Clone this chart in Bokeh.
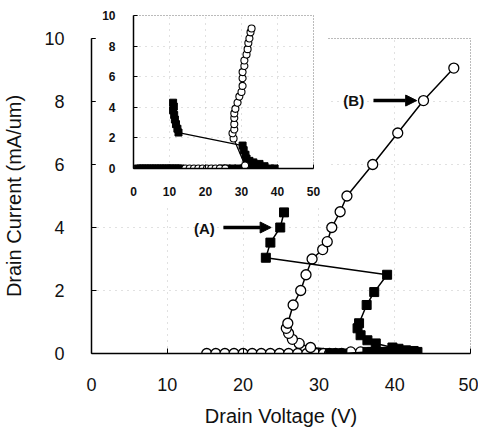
from bokeh.plotting import figure
from bokeh.models import Arrow, NormalHead, Label, FixedTicker
from bokeh.embed import file_html
from bokeh.resources import INLINE

# ---------------- data (main chart) ----------------
x_ticks = [0, 10, 20, 30, 40, 50]
y_ticks = [0, 2, 4, 6, 8, 10]

# curve (B): open circles
b_x = [15.2, 16.4, 17.6, 18.8, 20.0, 21.2, 22.4, 23.6, 24.8, 26.0, 27.2, 28.4,
       29.6, 30.6, 31.4, 32.2, 33.0, 34.2, 35.5,
       28.9, 27.4, 26.5, 26.0, 25.7, 25.9, 26.6, 27.6, 28.3, 29.1, 30.5, 31.1,
       31.7, 32.8, 33.7, 37.1, 40.4, 43.8, 47.8]
b_y = [0, 0, 0, 0, 0, 0, 0, 0, 0, 0, 0, 0,
       0, 0, 0, 0, 0, 0.05, 0.05,
       0.19, 0.32, 0.45, 0.64, 0.8, 0.96, 1.54, 2.0, 2.5, 3.0, 3.3, 3.55,
       4.0, 4.5, 5.0, 6.0, 7.0, 8.03, 9.06]

# curve (A): filled squares
a_x = [31.5, 32.3, 33.1, 36.4, 37.0, 37.6, 38.2, 38.8, 39.4, 40.0, 40.6, 41.2,
       41.8, 42.4, 43.0,
       42.5, 41.5, 40.5, 39.7, 37.5, 36.4, 35.5, 35.1, 35.3, 36.3, 37.3, 39.0,
       23.0, 23.6, 24.9, 25.4]
a_y = [0, 0, 0, 0.05, 0.05, 0.05, 0.05, 0.05, 0.05, 0.05, 0.05, 0.05,
       0.05, 0.05, 0.05,
       0.08, 0.1, 0.15, 0.19, 0.32, 0.42, 0.58, 0.8, 0.96, 1.54, 1.95, 2.5,
       3.04, 3.52, 4.0, 4.48]

# annotations
label_a = "(A)"
label_b = "(B)"
ann_a = dict(text_x=14.9, text_y=3.97, x_start=17.4, x_end=23.7, y=4.0)
ann_b = dict(text_x=34.6, text_y=8.03, x_start=37.2, x_end=42.9, y=8.03)

# ---------------- data (inset) ----------------
in_x_ticks = [0, 10, 20, 30, 40, 50]
in_y_ticks = [0, 2, 4, 6, 8, 10]

ib_x = [14.4, 15.6, 16.8, 18.0, 19.2, 20.4, 21.6, 22.8, 24.0, 25.5, 31.0,
        27.8, 27.5, 28.0, 28.0, 28.0, 28.0, 28.3, 28.9, 29.4, 30.0, 30.3,
        30.3, 30.3, 30.8, 30.8, 31.4, 31.7, 31.9, 32.2, 32.5, 32.8]
ib_y = [0, 0, 0, 0, 0, 0, 0, 0, 0, 0, 0.2,
        1.96, 2.3, 2.55, 2.9, 3.3, 3.6, 3.9, 4.3, 4.7, 5.0, 5.4,
        5.9, 6.3, 6.7, 7.06, 7.45, 7.8, 8.2, 8.5, 8.9, 9.15]

ia_x = [1.2, 1.9, 2.6, 3.3, 4.0, 4.7, 5.4, 6.1, 6.8, 7.5, 8.2, 8.9, 9.6, 10.3,
        11.0, 11.7, 12.4, 13.1, 24.5, 26.0, 27.5, 29.0, 30.5, 32.0, 33.5, 35.0,
        36.5, 38.0, 39.2,
        36.4, 35.0, 33.3, 32.2, 31.4, 31.1, 30.6, 30.3,
        12.5, 12.2, 11.8, 11.5, 11.3, 11.0, 11.2, 11.0]
ia_y = [0, 0, 0, 0, 0, 0, 0, 0, 0, 0, 0, 0, 0, 0,
        0, 0, 0, 0, 0, 0, 0, 0, 0, 0, 0, 0,
        0, 0, 0,
        0.15, 0.3, 0.4, 0.5, 0.65, 0.9, 1.2, 1.5,
        2.35, 2.6, 2.9, 3.2, 3.5, 3.8, 4.05, 4.3]

FONT = "Liberation Sans"

# ---------------- main figure ----------------
p = figure(width=478, height=429, x_range=(0, 50), y_range=(0, 10),
           output_backend="svg", toolbar_location=None,
           min_border_left=90, min_border_right=8, min_border_top=38,
           min_border_bottom=76)
p.outline_line_color = "#777777"
p.outline_line_dash = "1 2"
p.outline_line_width = 1

p.xaxis.ticker = FixedTicker(ticks=x_ticks)
p.yaxis.ticker = FixedTicker(ticks=y_ticks)
for ax in (p.xaxis[0], p.yaxis[0]):
    ax.axis_line_color = "black"
    ax.axis_line_width = 1.5
    ax.major_tick_in = 5
    ax.major_tick_out = 0
    ax.major_tick_line_color = "black"
    ax.minor_tick_line_color = None
    ax.major_label_text_font = FONT
    ax.major_label_text_font_size = "18px"
    ax.major_label_text_color = "#111111"
    ax.axis_label_text_font = FONT
    ax.axis_label_text_font_size = "20px"
    ax.axis_label_text_font_style = "normal"
    ax.axis_label_text_color = "#111111"
p.xaxis.axis_label = "Drain Voltage (V)"
p.yaxis.axis_label = "Drain Current (mA/um)"
p.xaxis.major_label_standoff = 24
p.yaxis.major_label_standoff = 27
p.xaxis.axis_label_standoff = 11
p.yaxis.axis_label_standoff = 16

p.grid.grid_line_color = "#aaaaaa"
p.grid.grid_line_dash = "1 5"
p.grid.grid_line_alpha = 0.7

p.line(b_x, b_y, line_color="black", line_width=1.5)
p.scatter(b_x, b_y, marker="circle", size=10, fill_color="white",
          line_color="black", line_width=1.3)
p.line(a_x, a_y, line_color="black", line_width=1.5)
p.scatter(a_x, a_y, marker="square", size=9, fill_color="black",
          line_color="black")

for lab, ann in ((label_a, ann_a), (label_b, ann_b)):
    p.add_layout(Label(x=ann["text_x"], y=ann["text_y"], text=lab,
                       text_font=FONT, text_font_size="15px",
                       text_font_style="bold", text_align="center",
                       text_baseline="middle", text_color="#111111"))
    p.add_layout(Arrow(x_start=ann["x_start"], y_start=ann["y"],
                       x_end=ann["x_end"], y_end=ann["y"],
                       line_width=3.5, line_color="black",
                       end=NormalHead(size=11, fill_color="black",
                                      line_color="black")))

# ---------------- inset figure ----------------
q = figure(width=233, height=196, x_range=(0, 50), y_range=(0, 10),
           output_backend="svg", toolbar_location=None,
           min_border_left=38, min_border_right=15, min_border_top=7,
           min_border_bottom=36,
           styles={"position": "absolute", "left": "95px", "top": "8px"})
q.outline_line_color = "#777777"
q.outline_line_dash = "1 2"
q.xaxis.ticker = FixedTicker(ticks=in_x_ticks)
q.yaxis.ticker = FixedTicker(ticks=in_y_ticks)
for ax in (q.xaxis[0], q.yaxis[0]):
    ax.axis_line_color = "black"
    ax.axis_line_width = 1.5
    ax.major_tick_in = 4
    ax.major_tick_out = 0
    ax.major_tick_line_color = "black"
    ax.minor_tick_line_color = None
    ax.major_label_text_font = FONT
    ax.major_label_text_font_size = "12px"
    ax.major_label_text_font_style = "bold"
    ax.major_label_text_color = "#111111"
q.xaxis.major_label_standoff = 18
q.yaxis.major_label_standoff = 18
q.grid.grid_line_color = "#aaaaaa"
q.grid.grid_line_dash = "1 5"
q.grid.grid_line_alpha = 0.7

q.line(ia_x, ia_y, line_color="black", line_width=1.2)
q.scatter(ia_x, ia_y, marker="square", size=7, fill_color="black",
          line_color="black")
q.line(ib_x, ib_y, line_color="black", line_width=1.2)
q.scatter(ib_x, ib_y, marker="circle", size=7, fill_color="white",
          line_color="black", line_width=1.1)

open("out.html", "w").write(file_html([p, q], INLINE))
